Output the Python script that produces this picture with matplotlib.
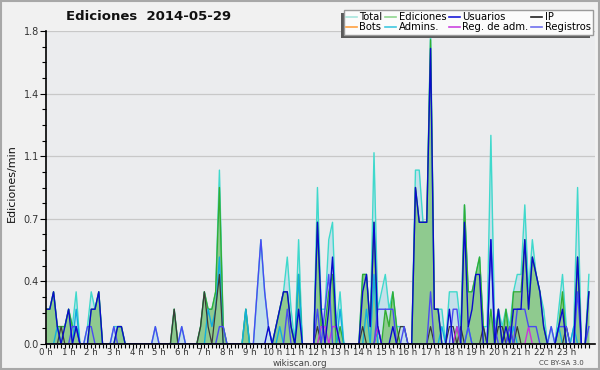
import matplotlib
matplotlib.use('Agg')
import matplotlib.pyplot as plt
import numpy as np
from matplotlib.lines import Line2D
from matplotlib.patches import Rectangle

# edits per minute, one value per 10-minute slot (0h00 .. 24h00)
total = [
    0.2, 0.2, 0.3, 0.1, 0.1, 0.1, 0.2, 0.1, 0.3, 0.0, 0.0, 0.1,
    0.3, 0.2, 0.3, 0.0, 0.0, 0.0, 0.1, 0.1, 0.1, 0.0, 0.0, 0.0,
    0.0, 0.0, 0.0, 0.0, 0.0, 0.1, 0.0, 0.0, 0.0, 0.0, 0.2, 0.0,
    0.1, 0.0, 0.0, 0.0, 0.0, 0.1, 0.3, 0.2, 0.2, 0.3, 1.0, 0.1,
    0.0, 0.0, 0.0, 0.0, 0.0, 0.2, 0.0, 0.0, 0.3, 0.6, 0.3, 0.1,
    0.0, 0.1, 0.2, 0.3, 0.5, 0.2, 0.0, 0.6, 0.0, 0.0, 0.0, 0.0,
    0.9, 0.2, 0.2, 0.6, 0.7, 0.1, 0.3, 0.0, 0.0, 0.0, 0.0, 0.0,
    0.4, 0.4, 0.1, 1.1, 0.2, 0.3, 0.4, 0.2, 0.3, 0.1, 0.1, 0.1,
    0.0, 0.0, 1.0, 1.0, 0.7, 0.7, 1.8, 0.2, 0.2, 0.2, 0.0, 0.3,
    0.3, 0.3, 0.1, 0.8, 0.3, 0.3, 0.4, 0.5, 0.1, 0.1, 1.2, 0.1,
    0.2, 0.1, 0.2, 0.1, 0.3, 0.4, 0.4, 0.8, 0.3, 0.6, 0.4, 0.3,
    0.2, 0.0, 0.1, 0.0, 0.2, 0.4, 0.1, 0.0, 0.1, 0.9, 0.0, 0.0,
    0.4,
]
ediciones = [
    0.2, 0.2, 0.3, 0.1, 0.1, 0.1, 0.2, 0.1, 0.1, 0.0, 0.0, 0.0,
    0.2, 0.2, 0.3, 0.0, 0.0, 0.0, 0.0, 0.1, 0.1, 0.0, 0.0, 0.0,
    0.0, 0.0, 0.0, 0.0, 0.0, 0.0, 0.0, 0.0, 0.0, 0.0, 0.2, 0.0,
    0.0, 0.0, 0.0, 0.0, 0.0, 0.1, 0.3, 0.2, 0.2, 0.3, 0.9, 0.1,
    0.0, 0.0, 0.0, 0.0, 0.0, 0.2, 0.0, 0.0, 0.0, 0.0, 0.0, 0.0,
    0.0, 0.1, 0.2, 0.3, 0.3, 0.1, 0.0, 0.4, 0.0, 0.0, 0.0, 0.0,
    0.7, 0.1, 0.1, 0.3, 0.4, 0.0, 0.1, 0.0, 0.0, 0.0, 0.0, 0.0,
    0.4, 0.4, 0.1, 0.7, 0.0, 0.0, 0.2, 0.1, 0.3, 0.1, 0.0, 0.0,
    0.0, 0.0, 0.9, 0.7, 0.7, 0.7, 1.75, 0.2, 0.2, 0.0, 0.0, 0.0,
    0.0, 0.1, 0.0, 0.8, 0.3, 0.3, 0.4, 0.5, 0.1, 0.0, 0.2, 0.0,
    0.2, 0.0, 0.2, 0.0, 0.3, 0.3, 0.3, 0.6, 0.2, 0.5, 0.4, 0.3,
    0.1, 0.0, 0.0, 0.0, 0.1, 0.3, 0.0, 0.0, 0.0, 0.5, 0.0, 0.0,
    0.3,
]
usuarios = [
    0.2, 0.2, 0.3, 0.1, 0.0, 0.1, 0.2, 0.0, 0.1, 0.0, 0.0, 0.0,
    0.2, 0.2, 0.3, 0.0, 0.0, 0.0, 0.0, 0.1, 0.1, 0.0, 0.0, 0.0,
    0.0, 0.0, 0.0, 0.0, 0.0, 0.0, 0.0, 0.0, 0.0, 0.0, 0.0, 0.0,
    0.0, 0.0, 0.0, 0.0, 0.0, 0.0, 0.0, 0.0, 0.0, 0.0, 0.0, 0.0,
    0.0, 0.0, 0.0, 0.0, 0.0, 0.0, 0.0, 0.0, 0.0, 0.0, 0.0, 0.1,
    0.0, 0.1, 0.2, 0.3, 0.3, 0.1, 0.0, 0.2, 0.0, 0.0, 0.0, 0.0,
    0.7, 0.2, 0.0, 0.2, 0.5, 0.1, 0.0, 0.0, 0.0, 0.0, 0.0, 0.0,
    0.3, 0.4, 0.1, 0.7, 0.1, 0.0, 0.0, 0.0, 0.1, 0.0, 0.0, 0.0,
    0.0, 0.0, 0.9, 0.7, 0.7, 0.7, 1.7, 0.2, 0.2, 0.0, 0.0, 0.2,
    0.0, 0.0, 0.0, 0.7, 0.1, 0.2, 0.4, 0.4, 0.0, 0.0, 0.6, 0.0,
    0.2, 0.0, 0.1, 0.0, 0.2, 0.2, 0.2, 0.6, 0.2, 0.5, 0.4, 0.3,
    0.1, 0.0, 0.0, 0.0, 0.1, 0.2, 0.0, 0.0, 0.0, 0.5, 0.0, 0.0,
    0.3,
]
ip = [
    0.0, 0.0, 0.0, 0.0, 0.1, 0.0, 0.0, 0.0, 0.0, 0.0, 0.0, 0.0,
    0.0, 0.0, 0.0, 0.0, 0.0, 0.0, 0.0, 0.0, 0.0, 0.0, 0.0, 0.0,
    0.0, 0.0, 0.0, 0.0, 0.0, 0.0, 0.0, 0.0, 0.0, 0.0, 0.2, 0.0,
    0.0, 0.0, 0.0, 0.0, 0.0, 0.1, 0.3, 0.1, 0.0, 0.2, 0.4, 0.0,
    0.0, 0.0, 0.0, 0.0, 0.0, 0.0, 0.0, 0.0, 0.0, 0.0, 0.0, 0.0,
    0.0, 0.0, 0.0, 0.0, 0.0, 0.0, 0.0, 0.0, 0.0, 0.0, 0.0, 0.0,
    0.1, 0.0, 0.0, 0.0, 0.0, 0.0, 0.0, 0.0, 0.0, 0.0, 0.0, 0.0,
    0.1, 0.0, 0.0, 0.0, 0.1, 0.0, 0.0, 0.0, 0.0, 0.0, 0.1, 0.1,
    0.0, 0.0, 0.0, 0.0, 0.0, 0.0, 0.1, 0.0, 0.0, 0.0, 0.0, 0.1,
    0.1, 0.0, 0.1, 0.0, 0.0, 0.0, 0.0, 0.0, 0.1, 0.0, 0.0, 0.0,
    0.1, 0.1, 0.0, 0.1, 0.0, 0.1, 0.0, 0.0, 0.0, 0.0, 0.0, 0.0,
    0.0, 0.0, 0.0, 0.0, 0.0, 0.0, 0.1, 0.0, 0.0, 0.0, 0.0, 0.0,
    0.0,
]
bots = [
    0.0, 0.0, 0.0, 0.0, 0.0, 0.0, 0.0, 0.0, 0.0, 0.0, 0.0, 0.0,
    0.0, 0.0, 0.0, 0.0, 0.0, 0.0, 0.0, 0.0, 0.0, 0.0, 0.0, 0.0,
    0.0, 0.0, 0.0, 0.0, 0.0, 0.0, 0.0, 0.0, 0.0, 0.0, 0.0, 0.0,
    0.0, 0.0, 0.0, 0.0, 0.0, 0.0, 0.0, 0.0, 0.0, 0.0, 0.0, 0.0,
    0.0, 0.0, 0.0, 0.0, 0.0, 0.0, 0.0, 0.0, 0.0, 0.0, 0.0, 0.0,
    0.0, 0.0, 0.0, 0.0, 0.0, 0.0, 0.0, 0.0, 0.0, 0.0, 0.0, 0.0,
    0.0, 0.0, 0.0, 0.0, 0.0, 0.0, 0.0, 0.0, 0.0, 0.0, 0.0, 0.0,
    0.0, 0.0, 0.0, 0.0, 0.0, 0.0, 0.0, 0.0, 0.0, 0.0, 0.0, 0.0,
    0.0, 0.0, 0.0, 0.0, 0.0, 0.0, 0.0, 0.0, 0.0, 0.0, 0.0, 0.0,
    0.0, 0.0, 0.0, 0.0, 0.0, 0.0, 0.0, 0.0, 0.0, 0.0, 0.0, 0.0,
    0.0, 0.0, 0.0, 0.0, 0.0, 0.0, 0.0, 0.0, 0.0, 0.0, 0.0, 0.0,
    0.0, 0.0, 0.0, 0.0, 0.0, 0.0, 0.0, 0.0, 0.0, 0.0, 0.0, 0.0,
    0.0,
]
admins = [
    0.0, 0.0, 0.0, 0.1, 0.0, 0.0, 0.0, 0.0, 0.2, 0.0, 0.0, 0.0,
    0.0, 0.0, 0.0, 0.0, 0.0, 0.0, 0.0, 0.0, 0.0, 0.0, 0.0, 0.0,
    0.0, 0.0, 0.0, 0.0, 0.0, 0.0, 0.0, 0.0, 0.0, 0.0, 0.0, 0.0,
    0.0, 0.0, 0.0, 0.0, 0.0, 0.0, 0.0, 0.2, 0.1, 0.2, 0.5, 0.0,
    0.0, 0.0, 0.0, 0.0, 0.0, 0.2, 0.0, 0.0, 0.0, 0.0, 0.0, 0.0,
    0.0, 0.0, 0.1, 0.0, 0.0, 0.0, 0.0, 0.4, 0.0, 0.0, 0.0, 0.0,
    0.0, 0.0, 0.0, 0.0, 0.0, 0.0, 0.2, 0.0, 0.0, 0.0, 0.0, 0.0,
    0.0, 0.2, 0.0, 0.4, 0.0, 0.0, 0.0, 0.0, 0.0, 0.0, 0.0, 0.0,
    0.0, 0.0, 0.0, 0.0, 0.0, 0.0, 0.0, 0.0, 0.0, 0.1, 0.0, 0.0,
    0.0, 0.0, 0.0, 0.0, 0.1, 0.0, 0.0, 0.0, 0.0, 0.0, 0.0, 0.0,
    0.0, 0.0, 0.0, 0.0, 0.1, 0.0, 0.0, 0.0, 0.0, 0.0, 0.0, 0.0,
    0.0, 0.0, 0.0, 0.0, 0.1, 0.0, 0.0, 0.0, 0.1, 0.0, 0.0, 0.0,
    0.0,
]
reg_adm = [
    0.0, 0.0, 0.0, 0.0, 0.0, 0.0, 0.0, 0.0, 0.0, 0.0, 0.0, 0.0,
    0.0, 0.0, 0.0, 0.0, 0.0, 0.0, 0.0, 0.0, 0.0, 0.0, 0.0, 0.0,
    0.0, 0.0, 0.0, 0.0, 0.0, 0.0, 0.0, 0.0, 0.0, 0.0, 0.0, 0.0,
    0.0, 0.0, 0.0, 0.0, 0.0, 0.0, 0.0, 0.0, 0.0, 0.0, 0.0, 0.0,
    0.0, 0.0, 0.0, 0.0, 0.0, 0.0, 0.0, 0.0, 0.0, 0.0, 0.0, 0.0,
    0.0, 0.0, 0.0, 0.0, 0.0, 0.0, 0.0, 0.0, 0.0, 0.0, 0.0, 0.0,
    0.0, 0.1, 0.1, 0.0, 0.1, 0.1, 0.0, 0.0, 0.0, 0.0, 0.0, 0.0,
    0.0, 0.0, 0.0, 0.0, 0.1, 0.0, 0.0, 0.0, 0.0, 0.0, 0.0, 0.0,
    0.0, 0.0, 0.0, 0.0, 0.0, 0.0, 0.0, 0.0, 0.0, 0.0, 0.0, 0.0,
    0.0, 0.1, 0.0, 0.0, 0.0, 0.0, 0.0, 0.0, 0.0, 0.0, 0.0, 0.0,
    0.0, 0.0, 0.0, 0.0, 0.0, 0.0, 0.0, 0.0, 0.1, 0.0, 0.0, 0.0,
    0.0, 0.0, 0.0, 0.0, 0.0, 0.0, 0.0, 0.0, 0.0, 0.0, 0.0, 0.0,
    0.0,
]
registros = [
    0.0, 0.0, 0.0, 0.0, 0.0, 0.0, 0.0, 0.1, 0.1, 0.0, 0.0, 0.1,
    0.1, 0.0, 0.0, 0.0, 0.0, 0.0, 0.1, 0.0, 0.0, 0.0, 0.0, 0.0,
    0.0, 0.0, 0.0, 0.0, 0.0, 0.1, 0.0, 0.0, 0.0, 0.0, 0.0, 0.0,
    0.1, 0.0, 0.0, 0.0, 0.0, 0.0, 0.0, 0.0, 0.0, 0.0, 0.1, 0.1,
    0.0, 0.0, 0.0, 0.0, 0.0, 0.0, 0.0, 0.0, 0.3, 0.6, 0.3, 0.1,
    0.0, 0.0, 0.0, 0.0, 0.2, 0.0, 0.0, 0.0, 0.0, 0.0, 0.0, 0.0,
    0.2, 0.0, 0.2, 0.4, 0.0, 0.0, 0.0, 0.0, 0.0, 0.0, 0.0, 0.0,
    0.0, 0.0, 0.0, 0.0, 0.2, 0.2, 0.2, 0.2, 0.2, 0.0, 0.0, 0.1,
    0.0, 0.0, 0.0, 0.0, 0.0, 0.0, 0.3, 0.0, 0.0, 0.0, 0.0, 0.0,
    0.2, 0.2, 0.0, 0.0, 0.1, 0.0, 0.0, 0.0, 0.0, 0.0, 0.6, 0.1,
    0.0, 0.0, 0.0, 0.1, 0.0, 0.2, 0.2, 0.2, 0.1, 0.1, 0.1, 0.0,
    0.0, 0.0, 0.1, 0.0, 0.1, 0.1, 0.1, 0.0, 0.0, 0.3, 0.0, 0.0,
    0.1,
]

hour_ticks = list(range(24))
hour_labels = ['%d h' % h for h in hour_ticks]
y_max = 1.8

slots = np.arange(len(total)) / 6.0

fig = plt.figure(figsize=(6, 3.7), dpi=100, facecolor='#f1f1f1')
fig.patches.append(Rectangle((0.002, 0.003), 0.996, 0.994, transform=fig.transFigure,
                             fill=False, edgecolor='#a8a8a8', linewidth=1.5))

ax = fig.add_axes([46 / 600, 1 - 344 / 370, (595 - 46) / 600, (344 - 31) / 370])
ax.set_facecolor('#ebecee')

ax.fill_between(slots, total, color='#c5e0ea', linewidth=0, zorder=1)
ax.fill_between(slots, ediciones, color='#8fca8f', linewidth=0, zorder=1.1)

lw = 1.0
ax.plot(slots, total, color='#3fd9cc', lw=lw, zorder=2)
ax.plot(slots, ediciones, color='#33ad33', lw=lw, zorder=2.01)
ax.plot(slots, bots, color='#ff9933', lw=lw, zorder=2.02)
ax.plot(slots, admins, color='#12aede', lw=lw, zorder=2.03)
ax.plot(slots, ip, color='#3a3a3a', lw=0.9, zorder=2.04)
ax.plot(slots, reg_adm, color='#c935dc', lw=lw, zorder=2.05)
ax.plot(slots, registros, color='#4a4af2', lw=lw, zorder=2.06)
ax.plot(slots, usuarios, color='#0a0acc', lw=lw, zorder=2.07)

ax.set_xlim(0, 24.27)
ax.set_ylim(0, y_max)

yticks = np.linspace(0, y_max, 6)
ax.set_yticks(yticks)
ax.set_yticklabels(['%.1f' % v for v in yticks])
ax.set_yticks(np.linspace(0, y_max, 21), minor=True)
ax.set_xticks(hour_ticks)
ax.set_xticklabels(hour_labels)
ax.set_xticks(np.arange(0, 24.01, 1 / 6.0), minor=True)

ax.tick_params(axis='y', which='major', labelsize=7, colors='#000000',
               labelcolor='#333333', length=4, width=0.8, pad=1)
ax.tick_params(axis='x', which='major', labelsize=6.2, colors='#000000',
               labelcolor='#333333', length=3, width=0.8, pad=0)
ax.tick_params(axis='both', which='minor', length=3, width=0.8)
ax.grid(axis='y', which='major', color='#c8c8c8', linewidth=0.9, zorder=0)
ax.set_axisbelow(True)

for side in ['top', 'right']:
    ax.spines[side].set_visible(False)
for side in ['left', 'bottom']:
    ax.spines[side].set_color('#000000')
    ax.spines[side].set_linewidth(1.2)
    ax.spines[side].set_zorder(3)

fig.text(149 / 600, 1 - 17 / 370, 'Ediciones  2014-05-29', ha='center', va='center',
         fontsize=9.5, fontweight='bold', color='#111111')
fig.text(12 / 600, 1 - 183 / 370, 'Ediciones/min', rotation=90, ha='center', va='center',
         fontsize=8, color='#111111')
fig.text(300 / 600, 1 - 363.5 / 370, 'wikiscan.org', ha='center', va='center',
         fontsize=6.3, color='#444444')
fig.text(561 / 600, 1 - 363 / 370, 'CC BY-SA 3.0', ha='center', va='center',
         fontsize=5, color='#444444')

names = ['Total', 'Bots', 'Ediciones', 'Admins.', 'Usuarios', 'Reg. de adm.', 'IP', 'Registros']
colors = ['#a8e6de', '#ffa040', '#8fd68f', '#40c8e0', '#1a1ad8', '#cc44e0', '#222222', '#7070ee']
handles = [Line2D([], [], color=c, lw=1.2) for c in colors]
leg = fig.legend(handles, names, ncol=4, loc='upper right',
                 bbox_to_anchor=(593 / 600, 1 - 10 / 370), borderaxespad=0,
                 fontsize=7.2, frameon=True, fancybox=False, framealpha=1,
                 facecolor='#fbfbfb', edgecolor='#9a9a9a', handlelength=1.1,
                 handletextpad=0.25, columnspacing=0.25, labelspacing=0.0,
                 borderpad=0.25)
leg.set_zorder(5)

fig.canvas.draw()
bb = leg.get_window_extent().transformed(fig.transFigure.inverted())
fig.patches.append(Rectangle((bb.x0 - 3 / 600, bb.y0 - 3 / 370), bb.width, bb.height,
                             transform=fig.transFigure, facecolor='#5a5a5a',
                             edgecolor='none', zorder=4))

fig.savefig('out.png', dpi=100, facecolor=fig.get_facecolor())
